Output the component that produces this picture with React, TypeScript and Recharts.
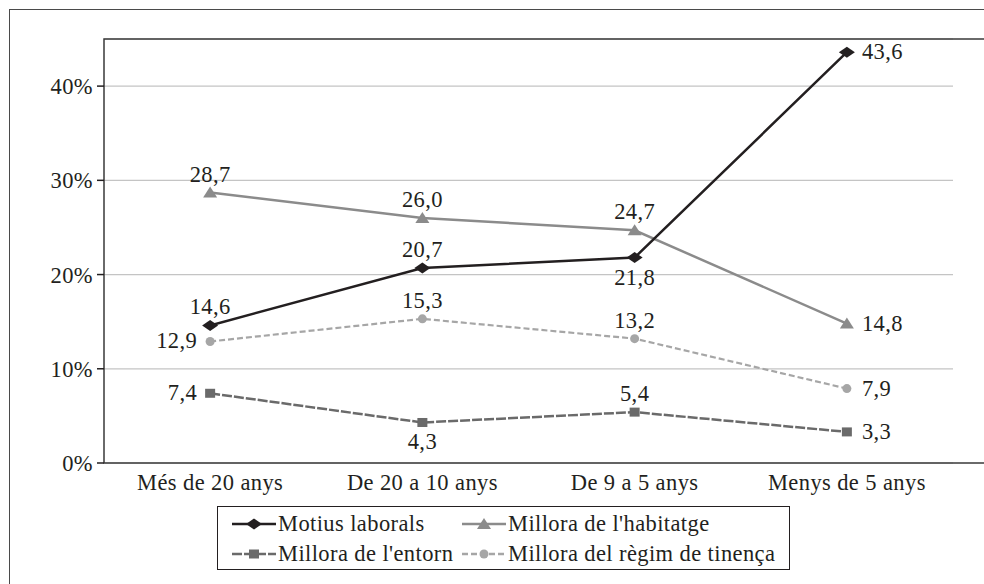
import React from 'react';
import { LineChart, Line, XAxis, YAxis, CartesianGrid, ReferenceArea, LabelList } from 'recharts';

const categories = ['Més de 20 anys', 'De 20 a 10 anys', 'De 9 a 5 anys', 'Menys de 5 anys'];
const laborals = [14.6, 20.7, 21.8, 43.6];
const habitatge = [28.7, 26.0, 24.7, 14.8];
const entorn = [7.4, 4.3, 5.4, 3.3];
const regim = [12.9, 15.3, 13.2, 7.9];
const yTicks = [0, 10, 20, 30, 40];
const bandTicks = [0, 1, 2, 3, 4];

// where each value label sits relative to its point
const laboralsLabelSide = ['top', 'top', 'bottom', 'right'];
const habitatgeLabelSide = ['top', 'top', 'top', 'right'];
const entornLabelSide = ['left', 'bottom', 'top', 'right'];
const regimLabelSide = ['left', 'top', 'top', 'right'];

const data = categories.map((name, i) => ({
  name,
  laborals: laborals[i],
  habitatge: habitatge[i],
  entorn: entorn[i],
  regim: regim[i],
}));

const FONT = "'Liberation Serif', 'Times New Roman', serif";
const INK = '#231f20';
const FS = 22.5;
const LS = 0.4;

const C_LAB = '#231f20';
const C_HAB = '#8b8b8b';
const C_ENT = '#6a6a6a';
const C_REG = '#a6a6a6';

const fmt = (v: number) => v.toFixed(1).replace('.', ',');

function Marker({ shape, cx, cy, color }: { shape: string; cx: number; cy: number; color: string }) {
  if (cx == null || cy == null) return null;
  if (shape === 'diamond')
    return <polygon points={`${cx - 8},${cy} ${cx},${cy - 5.5} ${cx + 8},${cy} ${cx},${cy + 5.5}`} fill={color} />;
  if (shape === 'triangle')
    return <polygon points={`${cx - 7},${cy + 5} ${cx},${cy - 6} ${cx + 7},${cy + 5}`} fill={color} />;
  if (shape === 'square') return <rect x={cx - 5} y={cy - 4.5} width={10} height={9} fill={color} />;
  return <circle cx={cx} cy={cy} r={4.5} fill={color} />;
}

const dot = (shape: string, color: string) => (props: any) =>
  <Marker key={`${shape}-${props.index}`} shape={shape} cx={props.cx} cy={props.cy} color={color} />;

const label = (sides: string[]) => (props: any) => {
  const { x, y, value, index } = props;
  const side = sides[index];
  let tx = x;
  let ty = y - 11;
  let anchor: 'middle' | 'start' | 'end' = 'middle';
  if (side === 'bottom') ty = y + 27;
  if (side === 'right') { tx = x + 15; ty = y + 7; anchor = 'start'; }
  if (side === 'left') { tx = x - 13; ty = y + 7; anchor = 'end'; }
  return (
    <text key={`l-${index}`} x={tx} y={ty} textAnchor={anchor} fontSize={FS} fontFamily={FONT} fill={INK} letterSpacing={LS}>
      {fmt(value)}
    </text>
  );
};

const legendItems = [
  { name: 'Motius laborals', color: C_LAB, shape: 'diamond', dash: undefined },
  { name: "Millora de l'habitatge", color: C_HAB, shape: 'triangle', dash: undefined },
  { name: "Millora de l'entorn", color: C_ENT, shape: 'square', dash: '10 2' },
  { name: 'Millora del règim de tinença', color: C_REG, shape: 'circle', dash: '6 3' },
];

function LegendBox() {
  return (
    <div
      style={{
        position: 'absolute',
        left: 217,
        top: 506,
        width: 573,
        height: 64,
        border: `1.5px solid ${INK}`,
        boxSizing: 'border-box',
        display: 'grid',
        gridTemplateColumns: '230px 320px',
        padding: '2px 0 0 14px',
      }}
    >
      {legendItems.map((it) => (
        <div key={it.name} style={{ display: 'flex', alignItems: 'center', whiteSpace: 'nowrap', height: 29 }}>
          <svg width={44} height={14} style={{ marginRight: 2, flexShrink: 0 }}>
            <line x1={0} y1={7} x2={44} y2={7} stroke={it.color} strokeWidth={2.5} strokeDasharray={it.dash} />
            <Marker shape={it.shape} cx={22} cy={7} color={it.color} />
          </svg>
          <span style={{ fontFamily: FONT, fontSize: FS, color: INK, letterSpacing: LS }}>{it.name}</span>
        </div>
      ))}
    </div>
  );
}

export default function App() {
  return (
    <div style={{ position: 'absolute', left: 0, top: 0, width: 984, height: 584, overflow: 'hidden', background: '#fff' }}>
      <div
        style={{
          position: 'absolute',
          left: 9,
          top: 9,
          width: 1000,
          height: 600,
          border: '1.5px solid #4a4a4a',
        }}
      />
      <div style={{ position: 'absolute', left: 0, top: 0 }}>
        <LineChart width={984} height={584} data={data} margin={{ top: 39, right: 31, bottom: 91, left: 44 }}>
          <CartesianGrid vertical={false} stroke="#c4c4c4" strokeWidth={1.2} />
          <XAxis
            xAxisId="band"
            type="number"
            domain={[0, 4]}
            ticks={bandTicks}
            height={1}
            tick={false}
            tickSize={5}
            axisLine={false}
            tickLine={{ stroke: INK, strokeWidth: 1.5 }}
          />
          <XAxis
            dataKey="name"
            scale="band"
            height={29}
            axisLine={false}
            tickLine={false}
            tickMargin={5}
            tick={{ fontSize: FS, fontFamily: FONT, fill: INK, letterSpacing: LS }}
            interval={0}
          />
          <YAxis
            width={60}
            domain={[0, 45]}
            ticks={yTicks}
            tickFormatter={(v) => `${v}%`}
            tickSize={7}
            tickMargin={4}
            axisLine={false}
            tickLine={{ stroke: INK, strokeWidth: 1.5 }}
            tick={{ fontSize: FS, fontFamily: FONT, fill: INK, letterSpacing: LS }}
          />
          <ReferenceArea
            xAxisId="band"
            x1={0}
            x2={4}
            y1={0}
            y2={45}
            fill="none"
            stroke="#3a3a3a"
            strokeWidth={1.5}
            ifOverflow="visible"
          />
          <Line dataKey="regim" stroke={C_REG} strokeWidth={2.2} strokeDasharray="6 3" dot={dot('circle', C_REG)} isAnimationActive={false}>
            <LabelList dataKey="regim" content={label(regimLabelSide)} />
          </Line>
          <Line dataKey="entorn" stroke={C_ENT} strokeWidth={2.5} strokeDasharray="10 2" dot={dot('square', C_ENT)} isAnimationActive={false}>
            <LabelList dataKey="entorn" content={label(entornLabelSide)} />
          </Line>
          <Line dataKey="habitatge" stroke={C_HAB} strokeWidth={2.5} dot={dot('triangle', C_HAB)} isAnimationActive={false}>
            <LabelList dataKey="habitatge" content={label(habitatgeLabelSide)} />
          </Line>
          <Line dataKey="laborals" stroke={C_LAB} strokeWidth={2.5} dot={dot('diamond', C_LAB)} isAnimationActive={false}>
            <LabelList dataKey="laborals" content={label(laboralsLabelSide)} />
          </Line>
        </LineChart>
      </div>
      <LegendBox />
    </div>
  );
}
